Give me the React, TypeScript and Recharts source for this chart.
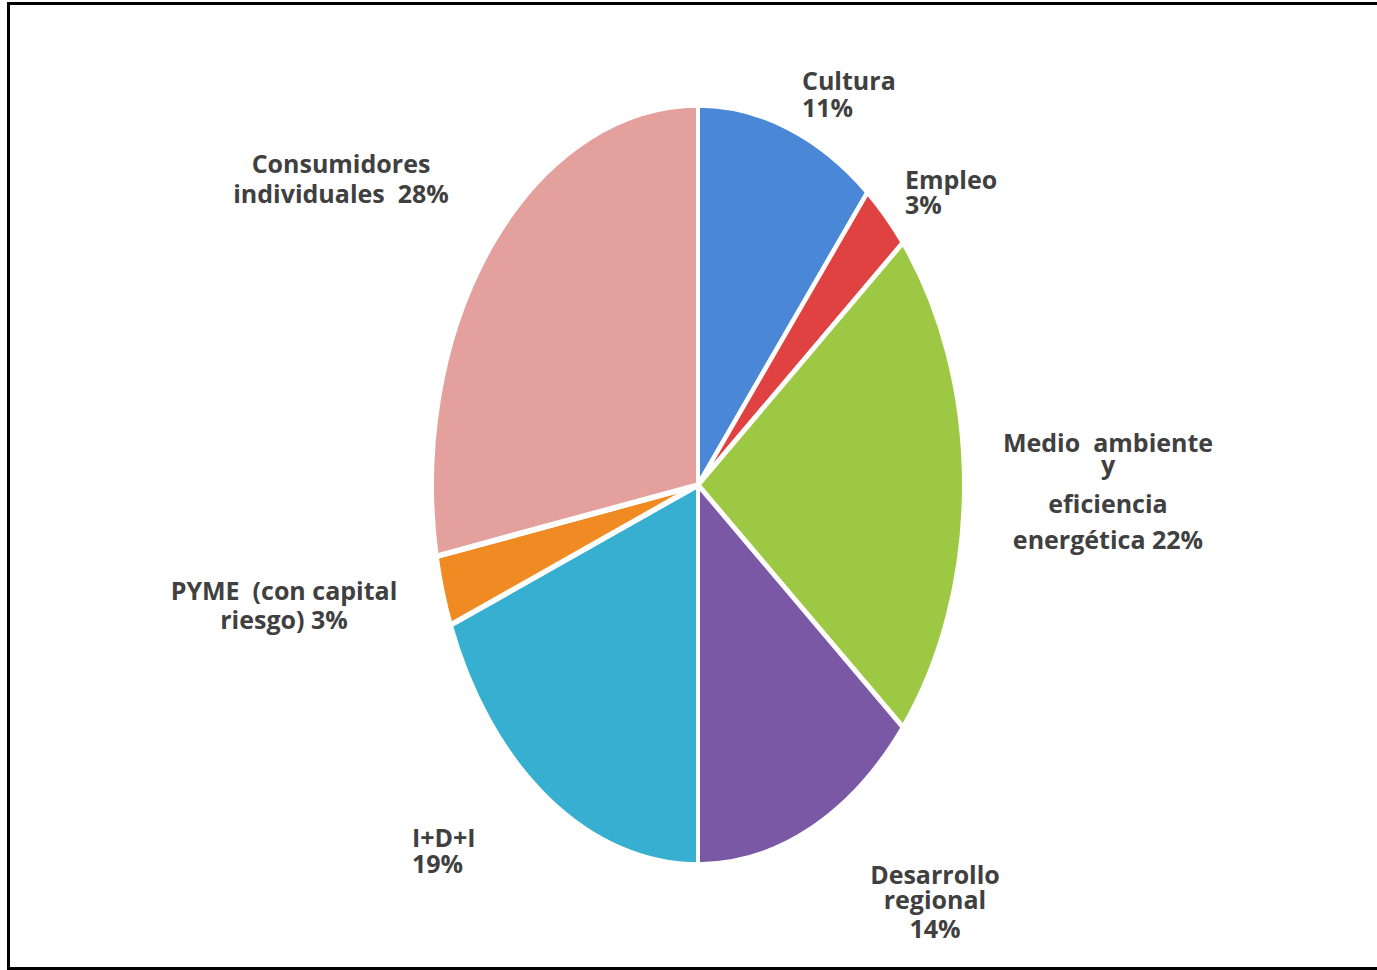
import { PieChart, Pie, Cell } from "recharts";

const categories = [
  "Cultura",
  "Empleo",
  "Medio ambiente y eficiencia energética",
  "Desarrollo regional",
  "I+D+I",
  "PYME (con capital riesgo)",
  "Consumidores individuales",
];
const shares = [11, 3, 22, 14, 19, 3, 28];
const sliceColors = [
  "#4a87d7",
  "#e04242",
  "#9dc843",
  "#7b58a6",
  "#37afd0",
  "#f08a22",
  "#e4a09d",
];

// label text as it is broken in the picture, "{p}" is replaced by the share
const labelLines = [
  ["Cultura", "{p}"],
  ["Empleo", "{p}"],
  ["Medio  ambiente", "y", "eficiencia", "energética {p}"],
  ["Desarrollo", "regional", "{p}"],
  ["I+D+I", "{p}"],
  ["PYME  (con capital", "riesgo) {p}"],
  ["Consumidores", "individuales  {p}"],
];

// where each label block sits (anchor x + one baseline per line)
const labelPlaces = [
  { x: 802, anchor: "start", baselines: [90, 117] },
  { x: 905, anchor: "start", baselines: [189, 214] },
  { x: 1108, anchor: "middle", baselines: [452, 474, 513, 549] },
  { x: 935, anchor: "middle", baselines: [884, 909, 938] },
  { x: 412, anchor: "start", baselines: [847, 873] },
  { x: 284, anchor: "middle", baselines: [600, 629] },
  { x: 341, anchor: "middle", baselines: [173, 203] },
];

const W = 1377;
const H = 970;
const CX = 698;
const CY = 485;
const RX = 266;
const RY = 380;

export default function App() {
  const data = categories.map((name, i) => ({ name, value: shares[i] }));

  return (
    <div style={{ position: "absolute", left: 0, top: 0, width: W, height: H, background: "#fff" }}>
      <div
        style={{
          position: "absolute",
          left: 7,
          top: 2,
          width: W - 7,
          height: 968,
          boxSizing: "border-box",
          border: "3px solid #000",
          borderRight: "none",
        }}
      />

      {/* the pie is drawn round, then stretched into the tall ellipse of the original */}
      <div
        style={{
          position: "absolute",
          left: 0,
          top: 0,
          transform: `scaleY(${RY / RX})`,
          transformOrigin: `0px ${CY}px`,
        }}
      >
        <PieChart width={W} height={H} margin={{ top: 0, right: 0, bottom: 0, left: 0 }}>
          <Pie
            data={data}
            dataKey="value"
            nameKey="name"
            cx={CX}
            cy={CY}
            outerRadius={RX}
            startAngle={90}
            endAngle={-270}
            stroke="#fff"
            strokeWidth={4}
            isAnimationActive={false}
          >
            {data.map((d, i) => (
              <Cell key={d.name} fill={sliceColors[i]} />
            ))}
          </Pie>
        </PieChart>
      </div>

      <svg
        width={W}
        height={H}
        style={{ position: "absolute", left: 0, top: 0, pointerEvents: "none" }}
      >
        {labelLines.map((lines, i) => (
          <text
            key={categories[i]}
            textAnchor={labelPlaces[i].anchor as any}
            fontFamily="'Open Sans', sans-serif"
            fontWeight={700}
            fontSize={25}
            fill="#404040"
            style={{ whiteSpace: "pre" }}
          >
            {lines.map((ln, j) => (
              <tspan key={j} x={labelPlaces[i].x} y={labelPlaces[i].baselines[j]}>
                {ln.replace("{p}", `${shares[i]}%`)}
              </tspan>
            ))}
          </text>
        ))}
      </svg>
    </div>
  );
}
